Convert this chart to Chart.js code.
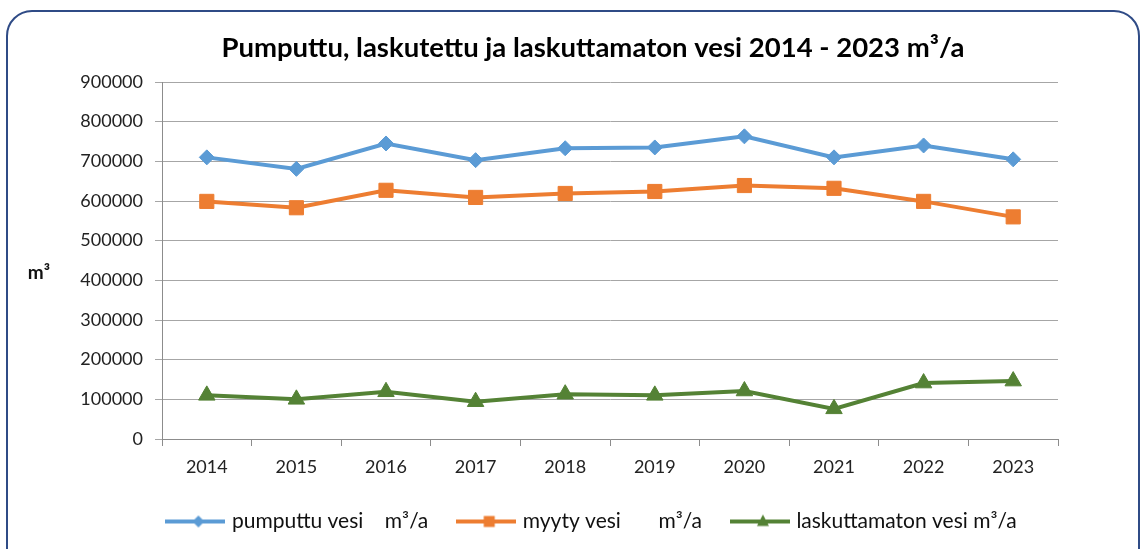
<!DOCTYPE html>
<html>
<head>
<meta charset="utf-8">
<script src="https://cdn.jsdelivr.net/npm/chart.js@4"></script>
<style>
  body { margin: 0; background: #fff; }
  #wrap { position: relative; width: 1144px; height: 549px; overflow: hidden; }
  #frame {
    position: absolute; left: 6px; top: 10px; width: 1134px; height: 580px;
    border: 2px solid #2f4b86; border-radius: 26px; box-sizing: border-box;
  }
  #chart { position: absolute; left: 0; top: 0; }
</style>
</head>
<body>
<div id="wrap">
  <div id="frame"></div>
  <canvas id="chart" width="1144" height="549"></canvas>
</div>
<script>
let years = ["2014", "2015", "2016", "2017", "2018", "2019", "2020", "2021", "2022", "2023"];
let pumped = [710000, 681000, 745000, 703000, 733000, 735000, 763000, 710000, 740000, 705000];
let sold = [599000, 583000, 627000, 609000, 619000, 624000, 639000, 632000, 599000, 560000];
let unbilled = [110000, 100000, 119000, 94000, 113000, 110000, 121000, 76000, 141000, 146000];
let seriesNames = ["pumputtu vesi    m³/a", "myyty vesi       m³/a", "laskuttamaton vesi m³/a"];
let yTicks = [0, 100000, 200000, 300000, 400000, 500000, 600000, 700000, 800000, 900000];

const FONT = "Lato, 'Open Sans', sans-serif";

function legendIcon(color, style) {
    let c = document.createElement("canvas");
    c.width = 60;
    c.height = 16;
    let ctx = c.getContext("2d");
    ctx.strokeStyle = color;
    ctx.fillStyle = color;
    ctx.lineWidth = 4;
    ctx.beginPath();
    ctx.moveTo(0, 8);
    ctx.lineTo(60, 8);
    ctx.stroke();
    let cx = 33, cy = 8;
    ctx.beginPath();
    if (style == "diamond") {
        ctx.moveTo(cx, cy - 6); ctx.lineTo(cx + 6, cy); ctx.lineTo(cx, cy + 6); ctx.lineTo(cx - 6, cy);
    } else if (style == "square") {
        ctx.rect(cx - 5.5, cy - 5.5, 11, 11);
    } else {
        ctx.moveTo(cx, cy - 7); ctx.lineTo(cx + 6, cy + 4.5); ctx.lineTo(cx - 6, cy + 4.5);
    }
    ctx.closePath();
    ctx.fill();
    return c;
}

let icons = [
    legendIcon("#5b9bd5", "diamond"),
    legendIcon("#ed7d31", "square"),
    legendIcon("#548235", "triangle")
];

// horizontal "m³" axis label, and title/legend centred over the frame
const extras = {
    id: "extras",
    afterLayout(chart) {
        chart.titleBlock.left = 128;
        chart.legend.left = 128;
    },
    afterDraw(chart) {
        let ctx = chart.ctx;
        let area = chart.chartArea;
        ctx.save();
        ctx.font = "bold 19px " + FONT;
        ctx.fillStyle = "#111";
        ctx.textAlign = "center";
        ctx.textBaseline = "middle";
        ctx.fillText("m³", 39, (area.top + area.bottom) / 2 + 12);
        ctx.restore();
    }
};

let context = document.getElementById("chart").getContext("2d");
let chart = new Chart(context, {
    type: "line",
    data: {
        labels: years,
        datasets: [
            {
                label: seriesNames[0],
                data: pumped,
                borderColor: "#5b9bd5",
                backgroundColor: "#5b9bd5",
                borderWidth: 4,
                pointStyle: "rectRot",
                pointRadius: 7.5,
                pointBorderWidth: 1
            },
            {
                label: seriesNames[1],
                data: sold,
                borderColor: "#ed7d31",
                backgroundColor: "#ed7d31",
                borderWidth: 4,
                pointStyle: "rect",
                pointRadius: 10,
                pointBorderWidth: 1
            },
            {
                label: seriesNames[2],
                data: unbilled,
                borderColor: "#548235",
                backgroundColor: "#548235",
                borderWidth: 4,
                pointStyle: "triangle",
                pointRadius: 9.5,
                pointBorderWidth: 1
            }
        ]
    },
    options: {
        responsive: false,
        animation: false,
        layout: {
            padding: { left: 40, right: 86, top: 0, bottom: 7 }
        },
        plugins: {
            title: {
                display: true,
                text: "Pumputtu, laskutettu ja laskuttamaton vesi 2014 - 2023 m³/a",
                color: "#000",
                font: { family: FONT, size: 27.5, weight: "bold" },
                padding: { top: 32, bottom: 17 }
            },
            legend: {
                position: "bottom",
                labels: {
                    color: "#111",
                    font: { family: FONT, size: 21 },
                    usePointStyle: true,
                    pointStyleWidth: 52,
                    padding: 32,
                    generateLabels: function(chart) {
                        return chart.data.datasets.map((ds, i) => ({
                            text: ds.label,
                            datasetIndex: i,
                            pointStyle: icons[i],
                            fillStyle: ds.borderColor,
                            strokeStyle: ds.borderColor,
                            lineWidth: 0,
                            fontColor: "#111"
                        }));
                    }
                }
            },
            tooltip: { enabled: false }
        },
        scales: {
            x: {
                offset: true,
                afterFit: function(scale) { scale.height = 40; },
                grid: {
                    offset: true,
                    drawOnChartArea: false,
                    tickLength: 7,
                    color: "#8c8c8c"
                },
                border: { color: "#8c8c8c", width: 1 },
                ticks: {
                    color: "#222",
                    padding: 10,
                    font: { family: FONT, size: 18 }
                }
            },
            y: {
                min: 0,
                max: 900000,
                afterFit: function(scale) { scale.width = 122; },
                afterBuildTicks: function(scale) {
                    scale.ticks = yTicks.map(v => ({ value: v }));
                },
                grid: {
                    color: "#a6a6a6",
                    tickLength: 7,
                    lineWidth: 1
                },
                border: { color: "#8c8c8c", width: 1 },
                ticks: {
                    color: "#222",
                    padding: 12,
                    font: { family: FONT, size: 18 },
                    callback: function(value) { return String(value); }
                }
            }
        },
        elements: {
            line: { tension: 0 }
        }
    },
    plugins: [extras]
});
</script>
</body>
</html>
